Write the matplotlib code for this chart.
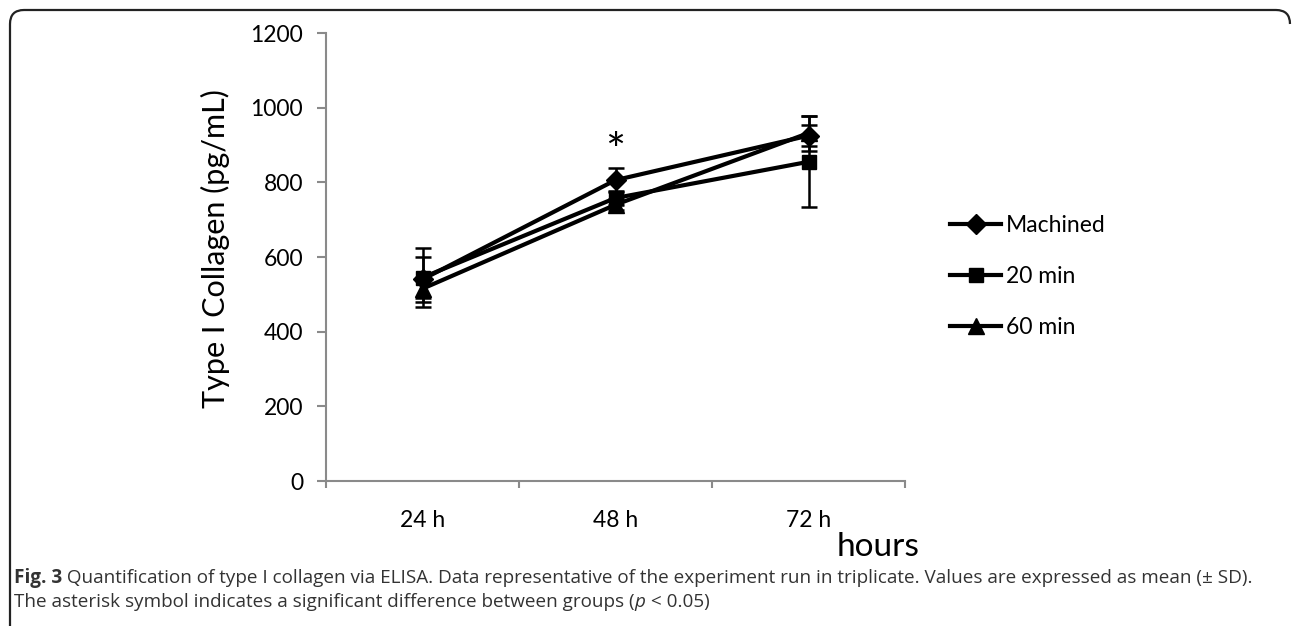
import matplotlib
matplotlib.use("Agg")
import matplotlib.pyplot as plt
from matplotlib.path import Path
from matplotlib.patches import PathPatch

W, H = 1292, 626

times = ["24 h", "48 h", "72 h"]
machined = [540, 806, 925]
machined_sd = [60, 33, 28]
min20 = [545, 758, 855]
min20_sd = [80, 20, 122]
min60 = [515, 740, 932]
min60_sd = [25, 15, 47]
series = [("Machined", machined, machined_sd, "D", 10),
          ("20 min", min20, min20_sd, "s", 10),
          ("60 min", min60, min60_sd, "^", 11)]
star_pos = (1, 878)   # asterisk above 48 h

caption1_bold = "Fig. 3"
caption1 = (" Quantification of type I collagen via ELISA. Data representative of the "
            "experiment run in triplicate. Values are expressed as mean (\u00b1 SD).")
caption2 = "The asterisk symbol indicates a significant difference between groups ("
caption2_it = "p"
caption2_end = " < 0.05)"

plt.rcParams["font.family"] = ["Lato", "DejaVu Sans"]

fig = plt.figure(figsize=(W / 100, H / 100), dpi=100)
ax = fig.add_axes([326 / W, 1 - 481 / H, 579 / W, 448 / H])

x = range(len(times))
handles = []
for name, vals, sd, mk, ms in series:
    ax.errorbar(x, vals, yerr=sd, fmt="none", ecolor="black",
                capsize=5.5, capthick=1.8, elinewidth=1.8)
    ln, = ax.plot(x, vals, color="black", lw=3, marker=mk, ms=ms, label=name)
    handles.append(ln)

ax.text(*star_pos, "*", ha="center", va="center", fontsize=34)

ax.set_xlim(-0.5, 2.5)
ax.set_ylim(0, 1200)
ax.set_yticks(range(0, 1201, 200))
ax.set_xticks([-0.5, 0.5, 1.5, 2.5])
ax.set_xticklabels([])
ax.set_xticks(x, minor=True)
ax.set_xticklabels(times, minor=True)
ax.tick_params(axis="x", which="minor", length=0, pad=21, labelsize=16.5)
ax.tick_params(axis="x", which="major", length=5, width=1.5, color="#8a8a8a", direction="out")
ax.tick_params(axis="y", length=6.5, width=1.5, color="#8a8a8a", pad=10, labelsize=16.5)
for s in ("top", "right"):
    ax.spines[s].set_visible(False)
for s in ("left", "bottom"):
    ax.spines[s].set_color("#8a8a8a")
    ax.spines[s].set_linewidth(1.5)

fig.text(215 / W, 1 - 249 / H, "Type I Collagen (pg/mL)", rotation=90,
         ha="center", va="center", fontsize=22)
fig.text(878 / W, 1 - 556 / H, "hours", ha="center", va="baseline", fontsize=24)

ax.legend(handles=handles, loc="upper left", bbox_to_anchor=(950 / W, 1 - 215 / H),
          bbox_transform=fig.transFigure, frameon=False, fontsize=16.5,
          handlelength=2.23, handletextpad=0.22, labelspacing=1.31, borderpad=0,
          borderaxespad=0)

# rounded frame, open at bottom and right
r = 14
x0, x1, yt = 10, 1290, 10
verts = [(x0, H + 5), (x0, yt + r), (x0, yt), (x0 + r, yt), (x1 - r, yt), (x1, yt), (x1, yt + r)]
codes = [Path.MOVETO, Path.LINETO, Path.CURVE3, Path.CURVE3, Path.LINETO, Path.CURVE3, Path.CURVE3]
verts = [(px / W, 1 - py / H) for px, py in verts]
fig.patches.append(PathPatch(Path(verts, codes), transform=fig.transFigure,
                             fill=False, lw=1.6, edgecolor="#222222"))

# caption
cap_kw = dict(family=["Open Sans", "DejaVu Sans"], color="#333333", va="baseline")
fs = 12.0
rend = fig.canvas.get_renderer()
t_b = fig.text(14 / W, 1 - 583 / H, caption1_bold, fontsize=fs, weight="bold", **cap_kw)
t_r = fig.text(0, 0, caption1, fontsize=fs, **cap_kw)
wb = t_b.get_window_extent(rend).width
wr = t_r.get_window_extent(rend).width
fs = fs * (1243 - 14) / (wb + wr)
t_b.set_fontsize(fs)
wb = t_b.get_window_extent(rend).width
t_r.set_fontsize(fs)
t_r.set_position(((14 + wb) / W, 1 - 583 / H))

y2 = 1 - 607 / H
t2 = fig.text(14 / W, y2, caption2, fontsize=fs, **cap_kw)
w2 = t2.get_window_extent(rend).width
t3 = fig.text((14 + w2) / W, y2, caption2_it, fontsize=fs, style="italic", **cap_kw)
w3 = t3.get_window_extent(rend).width
fig.text((14 + w2 + w3) / W, y2, caption2_end, fontsize=fs, **cap_kw)

fig.savefig("out.png", dpi=100)
